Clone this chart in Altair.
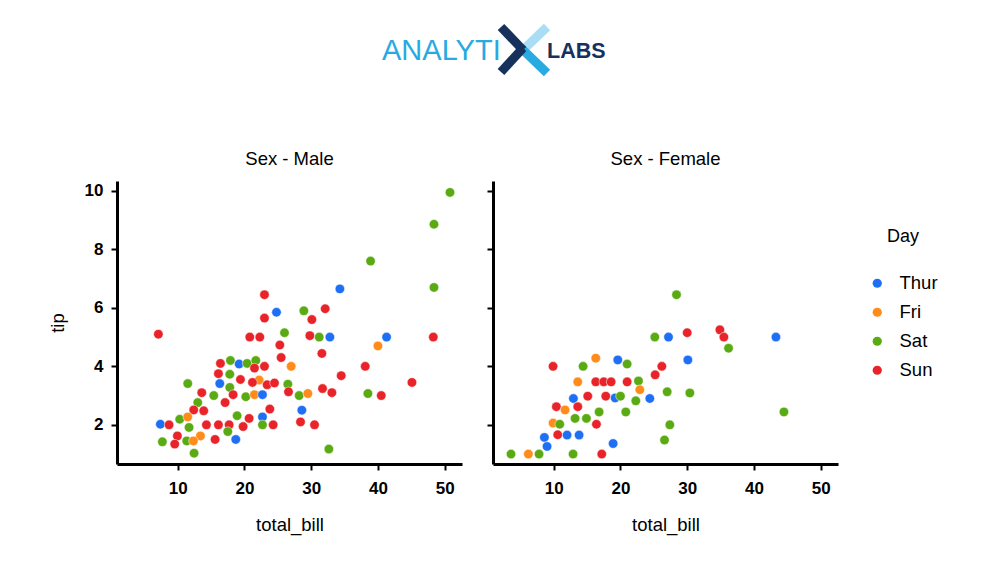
import altair as alt
import pandas as pd

days = ["Thur", "Fri", "Sat", "Sun"]
day_colors = ["#1f6ff5", "#ff8b1a", "#5aab13", "#e8242a"]
tick_x = [10, 20, 30, 40, 50]
tick_y = [2, 4, 6, 8, 10]
panel_titles = ["Sex - Male", "Sex - Female"]

male_bill = [23.0, 23.0, 24.8, 7.1, 26.0, 20.8, 22.3, 25.3, 25.5, 17.9, 19.2, 20.4, 21.7, 16.4,
             21.5, 23.0, 27.0, 16.1, 17.8, 19.4, 22.2, 21.2, 23.4, 24.5, 26.5, 11.5, 16.3, 17.8,
             13.6, 15.4, 18.3, 20.2, 21.5, 22.7, 26.6, 17.1, 13.0, 12.4, 13.9, 23.8, 10.3, 11.5,
             18.9, 20.7, 22.7, 7.4, 8.7, 14.3, 16.1, 17.7, 19.8, 22.7, 24.3, 11.7, 17.5, 9.95,
             13.4, 7.7, 9.55, 11.35, 12.35, 15.6, 18.7, 12.45, 28.9, 32.1, 30.1, 29.8, 31.2, 32.8,
             41.3, 48.3, 40.0, 31.6, 38.1, 34.5, 45.1, 28.2, 29.5, 31.7, 33.1, 38.5, 40.5, 28.6,
             28.4, 30.5, 32.65, 34.3, 38.9, 48.4, 48.4, 50.8]
male_tip = [6.45, 5.65, 5.85, 5.1, 5.15, 5.0, 5.0, 4.73, 4.3, 4.2, 4.08, 4.1, 4.2, 4.1,
            3.94, 4.0, 4.0, 3.75, 3.73, 3.55, 3.53, 3.45, 3.37, 3.43, 3.39, 3.41, 3.41, 3.28,
            3.1, 3.0, 3.03, 2.96, 3.03, 3.03, 3.13, 2.76, 2.76, 2.51, 2.48, 2.54, 2.19, 2.27,
            2.31, 2.22, 2.27, 2.02, 2.0, 2.0, 2.0, 2.0, 1.94, 2.0, 2.0, 1.91, 1.77, 1.62,
            1.62, 1.42, 1.34, 1.45, 1.45, 1.5, 1.5, 1.03, 5.9, 5.97, 5.6, 5.05, 5.0, 5.0,
            5.0, 5.0, 4.7, 4.44, 4.0, 3.68, 3.45, 3.0, 3.07, 3.24, 3.1, 3.07, 3.0, 2.5,
            2.1, 2.0, 1.17, 6.65, 7.6, 6.7, 8.86, 9.95]
male_day = ["Sun", "Sun", "Thur", "Sun", "Sat", "Sun", "Sun", "Sun", "Sun", "Sat", "Thur", "Sat", "Sat", "Sun",
            "Sun", "Sun", "Fri", "Sun", "Sat", "Sun", "Fri", "Sun", "Sun", "Sun", "Sat", "Sat", "Thur", "Sat",
            "Sun", "Sat", "Sun", "Sat", "Fri", "Thur", "Sun", "Sun", "Sat", "Sun", "Sun", "Sun", "Sat", "Fri",
            "Sat", "Sun", "Thur", "Thur", "Sun", "Sun", "Sun", "Sun", "Sun", "Sat", "Sun", "Sat", "Sat", "Sun",
            "Fri", "Sat", "Sun", "Sat", "Fri", "Sun", "Thur", "Sat", "Sat", "Sun", "Sun", "Sun", "Sat", "Thur",
            "Thur", "Sun", "Fri", "Sun", "Sun", "Sun", "Sun", "Sat", "Fri", "Sun", "Sun", "Sat", "Sun", "Thur",
            "Sun", "Sun", "Sat", "Thur", "Sat", "Sat", "Sat", "Sat"]

female_bill = [25.15, 27.2, 9.9, 14.4, 16.3, 19.6, 21.0, 26.2, 25.2, 13.6, 16.3, 17.5, 18.6, 21.0,
               22.7, 22.9, 27.0, 12.95, 15.1, 17.8, 19.2, 20.0, 22.3, 24.4, 10.4, 11.7, 13.6, 13.2,
               14.9, 16.8, 20.8, 9.9, 10.9, 16.4, 27.4, 8.6, 10.6, 12.0, 13.8, 26.6, 9.0, 18.9,
               3.6, 6.2, 7.8, 12.9, 17.2, 28.4, 30.0, 34.9, 35.5, 36.2, 43.3, 30.1, 30.4, 44.5]
female_tip = [5.0, 5.0, 4.0, 4.0, 4.28, 4.22, 4.08, 4.0, 3.71, 3.47, 3.47, 3.47, 3.47, 3.47,
              3.5, 3.2, 3.13, 2.9, 2.98, 2.98, 2.92, 2.98, 2.82, 2.9, 2.62, 2.51, 2.62, 2.22,
              2.22, 2.44, 2.44, 2.06, 2.02, 2.02, 2.0, 1.57, 1.66, 1.65, 1.65, 1.48, 1.26, 1.36,
              1.0, 1.0, 1.0, 1.0, 1.0, 6.45, 5.15, 5.25, 5.0, 4.62, 5.0, 4.22, 3.09, 2.44]
female_day = ["Sat", "Thur", "Sun", "Sat", "Fri", "Thur", "Sat", "Sun", "Sun", "Fri", "Sun", "Sun", "Sun", "Sun",
              "Sat", "Fri", "Sat", "Thur", "Sun", "Sun", "Thur", "Sat", "Sat", "Thur", "Sun", "Fri", "Sun", "Sat",
              "Sat", "Sat", "Sat", "Fri", "Sat", "Sun", "Sat", "Thur", "Sun", "Thur", "Thur", "Sat", "Thur", "Thur",
              "Sat", "Fri", "Sat", "Sat", "Sun", "Sat", "Sun", "Sun", "Sun", "Sat", "Thur", "Thur", "Sat", "Sat"]

male = pd.DataFrame({"total_bill": male_bill, "tip": male_tip, "day": male_day})
female = pd.DataFrame({"total_bill": female_bill, "tip": female_tip, "day": female_day})

FONT = "Liberation Sans"
W, H = 345, 283
xdom = [0.9, 52.6]
ydom = [0.66, 10.34]
PAD_L, PAD_T = 40, 12
LY0 = 8 + PAD_T
PLOT_X0 = 117  # page x of left plot origin (legend/logo x coords are relative to it)

color = alt.Color(
    "day:N",
    sort=days,
    scale=alt.Scale(domain=days, range=day_colors),
    legend=alt.Legend(
        title="Day", orient="none", legendX=868 - PLOT_X0, legendY=208,
        titleFontSize=18, titleFontWeight="normal", titleFont=FONT, titleColor="black",
        titleAnchor="middle", titlePadding=28,
        labelFontSize=18.5, labelFont=FONT, labelColor="black", labelOffset=13,
        symbolType="circle", symbolSize=85, symbolStrokeWidth=0, rowPadding=10,
    ),
)


def panel(df, title, show_y):
    if show_y:
        yaxis = alt.Axis(values=tick_y, title="tip", titlePadding=17)
    else:
        yaxis = alt.Axis(values=tick_y, labels=False, title=None)
    return alt.Chart(df).mark_circle(size=90, opacity=1, stroke="white", strokeWidth=0.5).encode(
        x=alt.X("total_bill:Q", scale=alt.Scale(domain=xdom, nice=False, zero=False),
                axis=alt.Axis(values=tick_x, title="total_bill", titlePadding=19)),
        y=alt.Y("tip:Q", scale=alt.Scale(domain=ydom, nice=False, zero=False), axis=yaxis),
        color=color,
    ).properties(width=W, height=H, title=alt.TitleParams(title, fontSize=18.5, fontWeight="normal",
                                                          font=FONT, color="black", offset=13))


left = panel(male, panel_titles[0], True)
right = panel(female, panel_titles[1], False)

# logo (decorative)
logo_df = pd.DataFrame({"k": [0]})
lb = alt.Chart(logo_df)
LX0 = PLOT_X0
logo = alt.layer(
    lb.mark_text(text="ANALYTI", font=FONT, fontSize=29, color="#29a9e1",
                 align="left", baseline="alphabetic").encode(x=alt.value(382 - LX0), y=alt.value(60 - LY0)),
    lb.mark_text(text="LABS", font=FONT, fontWeight="bold", fontSize=21.5, color="#16325c",
                 align="left", baseline="alphabetic").encode(x=alt.value(547 - LX0), y=alt.value(58 - LY0)),
    lb.mark_rule(color="#a9dcf5", strokeWidth=9).encode(
        x=alt.value(547 - LX0), x2=alt.value(523 - LX0), y=alt.value(27 - LY0), y2=alt.value(50 - LY0)),
    lb.mark_rule(color="#29abe2", strokeWidth=9).encode(
        x=alt.value(521 - LX0), x2=alt.value(547 - LX0), y=alt.value(48 - LY0), y2=alt.value(73 - LY0)),
    lb.mark_rule(color="#16325c", strokeWidth=9).encode(
        x=alt.value(501 - LX0), x2=alt.value(523 - LX0), y=alt.value(27 - LY0), y2=alt.value(50 - LY0)),
    lb.mark_rule(color="#16325c", strokeWidth=9).encode(
        x=alt.value(523 - LX0), x2=alt.value(501 - LX0), y=alt.value(48 - LY0), y2=alt.value(72 - LY0)),
).properties(width=700, height=119)

chart = alt.vconcat(
    logo,
    alt.hconcat(left, right, spacing=24),
    spacing=10,
).properties(
    padding={"left": PAD_L, "top": PAD_T, "right": 5, "bottom": 5}
).configure_view(stroke=None).configure_axis(
    grid=False, domainColor="black", domainWidth=3, tickColor="black", tickWidth=2, tickSize=6,
    labelFont=FONT, labelFontWeight="bold", labelFontSize=17, labelColor="black", labelPadding=8,
    titleFont=FONT, titleFontWeight="normal", titleFontSize=18.5, titleColor="black",
).configure_axisX(labelPadding=10)

chart.save("out.html", embed_options={"renderer": "svg", "actions": False})
